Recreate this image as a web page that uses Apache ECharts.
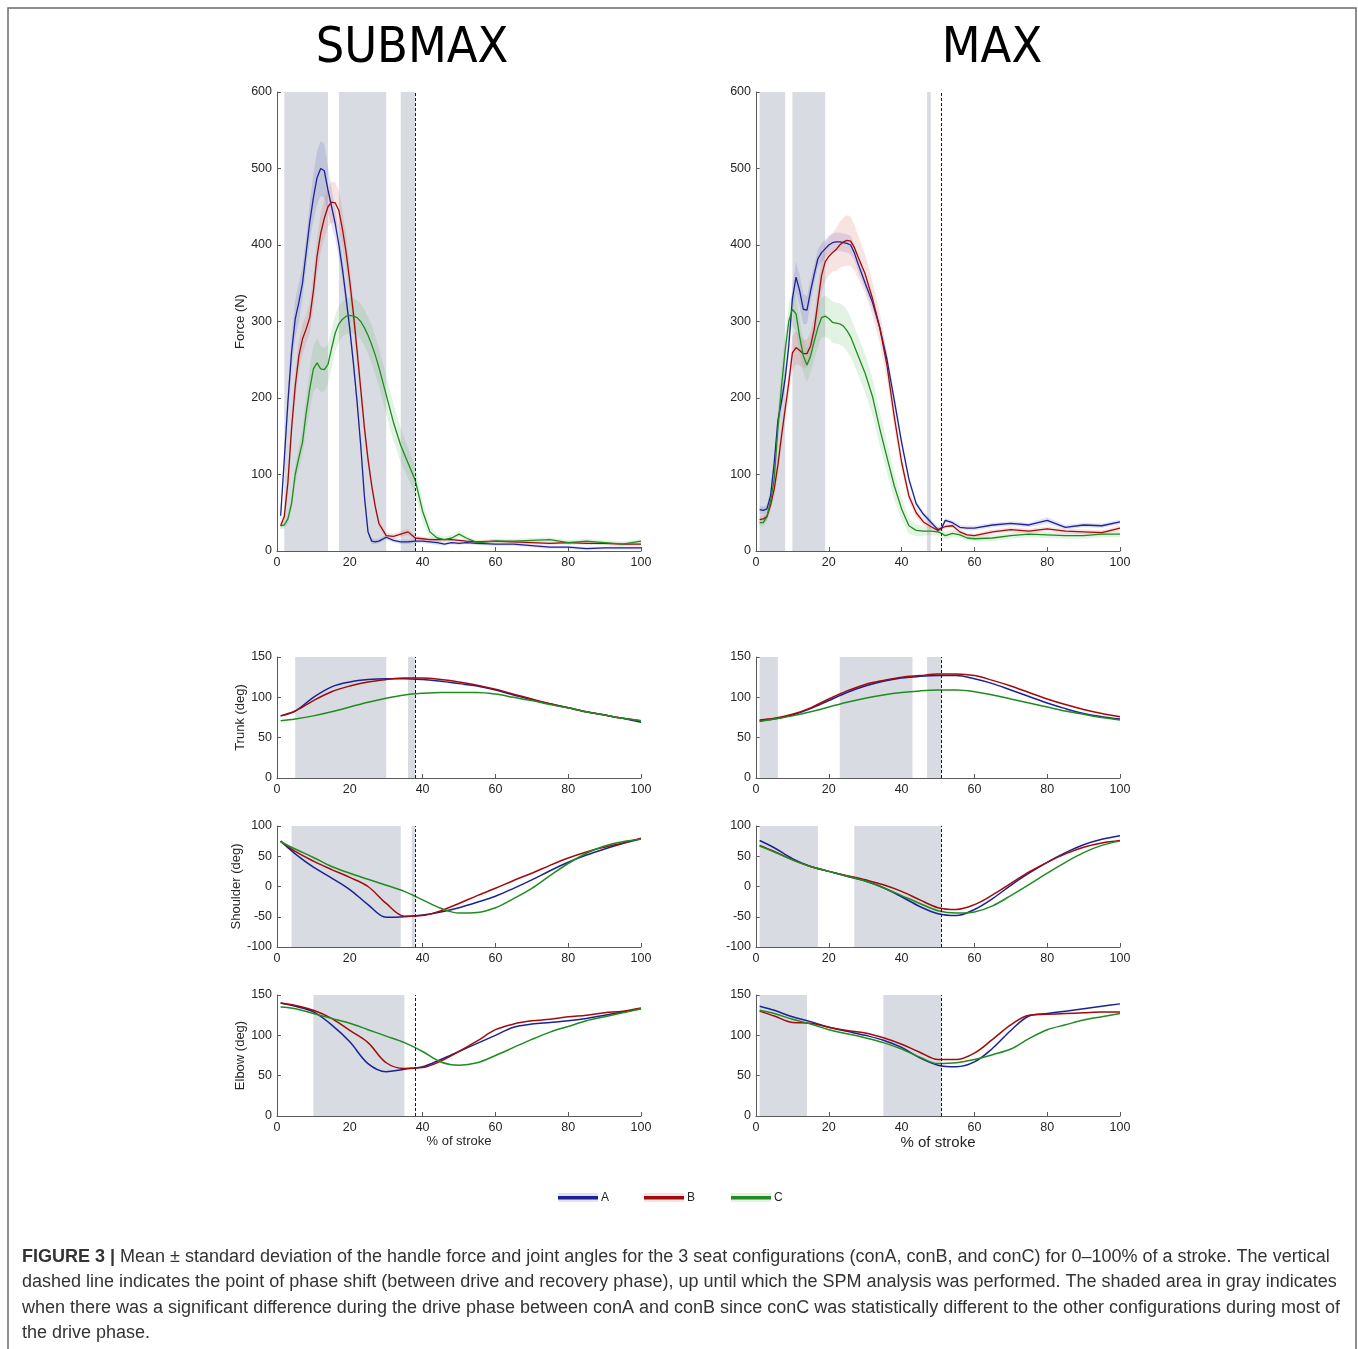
<!DOCTYPE html>
<html>
<head>
<meta charset="utf-8">
<title>Figure 3</title>
<script src="https://cdn.jsdelivr.net/npm/echarts@6/dist/echarts.min.js"></script>
<style>
html, body { margin: 0; padding: 0; background: #fff; }
#main { width: 1358px; height: 1349px; }
</style>
</head>
<body>
<div id="main"></div>
<script>
// ---- data ----
var configs = ['A', 'B', 'C'];

// force, SUBMAX
var xForceL = [1,2,3,4,5,6,7,8,9,10,11,12,13,14,15,16,17,18,19,20,21,22,23,24,25,26,27,28,30,32,34,36,38,40,42,44,46,48,50,52,55,60,65,70,75,80,85,90,95,100];
var forceL_A = [46,120,195,260,303,325,350,390,430,462,488,500,497,472,450,428,400,368,330,290,245,195,138,72,25,13,12,13,18,14,12,12,13,13,12,11,9,11,10,11,10,9,9,7,5,5,3,4,4,4];
var forceL_B = [33,45,90,160,215,255,277,290,305,340,385,415,435,450,456,455,445,420,390,352,310,262,212,162,120,86,58,36,20,19,22,25,17,16,15,15,15,15,14,13,12,13,12,11,10,11,10,10,9,9];
var forceL_C = [33,34,42,62,100,122,142,180,212,238,246,238,237,244,265,285,297,303,307,308,307,305,300,292,282,270,256,240,204,168,138,115,92,52,25,17,15,17,22,17,11,13,13,14,15,11,13,11,9,13];
var sdForceL_A = [5,10,15,20,25,25,22,20,25,30,35,36,35,30,25,20,18,15,12,10,10,10,8,8,5,4,3,3,3,3,3,3,3,3,3,3,2,2,2,2,2,2,2,2,2,2,2,2,2,2];
var sdForceL_B = [5,8,12,15,18,20,20,18,20,22,24,25,26,26,27,27,26,24,22,20,18,16,14,12,10,8,6,5,4,4,4,4,3,3,3,3,2,2,2,2,2,2,2,2,2,2,2,2,2,2];
var sdForceL_C = [5,5,6,8,12,15,18,22,28,30,32,30,28,26,25,24,24,23,23,23,23,23,23,24,24,25,25,25,25,24,22,20,18,14,8,5,4,4,4,3,3,3,3,3,3,3,3,3,3,3];

// force, MAX
var xForceR = [1,2,3,4,5,6,7,8,9,10,11,12,13,14,15,16,17,18,19,20,21,22,23,24,25,26,27,28,30,32,34,36,38,40,42,44,46,48,50,51,52,54,56,58,60,65,70,75,80,85,90,95,100];
var forceR_A = [54,53,55,72,115,170,195,225,268,330,358,340,316,315,340,362,382,390,395,400,403,404,404,403,402,400,390,376,350,325,292,250,197,142,94,62,48,38,28,30,40,37,31,30,30,34,36,34,40,31,34,33,38];
var forceR_B = [41,42,45,60,81,112,150,185,220,259,266,262,258,258,268,290,325,360,378,385,390,394,400,404,406,405,397,385,362,330,292,242,175,116,72,50,38,32,27,30,32,33,25,21,20,25,28,26,29,26,25,24,30];
var forceR_C = [37,37,45,65,94,160,215,262,300,316,310,280,255,243,255,274,292,305,307,304,299,298,297,294,288,280,268,256,232,202,160,122,85,55,33,27,26,26,25,23,20,23,21,17,16,17,20,22,21,20,20,22,22];
var sdForceR_A = [5,5,5,8,10,12,12,12,15,18,20,20,20,18,15,12,12,12,12,12,12,12,12,12,12,12,10,10,8,8,8,8,8,6,5,4,4,4,3,3,3,3,3,3,3,3,3,3,4,3,3,3,3];
var sdForceR_B = [5,5,5,8,10,12,15,18,20,22,22,20,18,18,18,18,20,22,25,25,25,28,30,32,33,32,30,28,25,22,20,18,15,10,8,6,5,4,4,3,3,3,3,3,3,3,3,3,3,3,3,3,3];
var sdForceR_C = [5,5,6,10,15,20,22,22,22,22,22,22,22,22,22,24,25,26,27,27,27,27,27,27,27,26,25,25,25,24,22,20,18,14,10,8,6,5,5,5,5,5,4,4,4,4,4,4,4,4,4,4,4];

// joint angles (deg)
var xAngle = [1,5,10,15,20,25,30,35,40,45,50,55,60,65,70,75,80,85,90,95,100];
var trunkL_A = [77,83,100,113,119,122,123,123,122,120,117,114,109,103,97,92,87,82,78,74,69];
var trunkL_B = [77,83,96,107,114,119,122,124,124,122,119,115,110,104,98,92,87,82,78,74,71];
var trunkL_C = [71,73,77,82,88,94,99,103,105,106,106,106,104,100,96,91,87,82,78,74,71];
var trunkR_A = [71,73,78,86,96,106,114,120,124,126,127,127,123,117,109,101,93,86,80,76,73];
var trunkR_B = [72,74,79,87,98,108,116,121,125,127,129,129,127,121,114,106,98,91,85,80,76];
var trunkR_C = [70,73,77,82,88,94,99,103,106,108,109,109,107,103,98,93,88,83,79,75,72];
var shoulderL_A = [75,54,32,14,-5,-30,-51,-50,-47,-42,-35,-26,-16,-3,11,26,40,52,62,71,79];
var shoulderL_B = [75,58,42,28,15,0,-28,-49,-48,-40,-28,-15,-3,10,22,35,47,57,65,72,80];
var shoulderL_C = [74,62,48,33,22,12,2,-8,-22,-36,-44,-43,-35,-20,-3,18,38,55,67,74,78];
var shoulderR_A = [76,64,46,33,25,17,9,-2,-17,-33,-45,-48,-38,-20,2,22,40,56,69,78,84];
var shoulderR_B = [68,58,44,33,25,18,11,3,-8,-22,-35,-38,-30,-14,5,24,40,54,65,72,76];
var shoulderR_C = [67,57,44,33,25,17,9,-2,-15,-28,-40,-44,-42,-32,-15,3,22,40,56,68,75];
var elbowL_A = [140,136,129,113,92,65,55,58,61,70,80,90,100,110,114,116,118,121,125,129,133];
var elbowL_B = [140,137,131,121,106,91,66,59,60,68,80,93,107,114,118,120,123,125,128,130,134];
var elbowL_C = [135,133,127,121,115,107,99,91,80,67,63,66,75,85,95,104,111,118,123,128,133];
var elbowR_A = [136,131,123,117,110,105,100,94,85,72,63,61,67,84,106,124,127,130,133,136,139];
var elbowR_B = [130,124,116,115,110,106,103,97,89,79,70,70,78,95,113,125,126,127,128,129,129];
var elbowR_C = [131,127,120,114,107,102,97,91,83,73,65,66,70,76,83,96,107,113,119,123,127];

// significant-difference windows (% of stroke) and phase shift
var shadeForceL = [[2,14],[17,30],[34,38]];
var shadeForceR = [[1,8],[10,19],[47,48]];
var shadeTrunkL = [[5,30],[36,38]];
var shadeTrunkR = [[1,6],[23,43],[47,51]];
var shadeShoulderL = [[4,34],[37,38]];
var shadeShoulderR = [[1,17],[27,51]];
var shadeElbowL = [[10,35]];
var shadeElbowR = [[1,14],[35,51]];
var phaseSubmax = 38;
var phaseMax = 51;

// ---- styling ----
var lineColors = ['#1b2394', '#a10b0b', '#1f8c1f'];
var bandColors = ['rgba(70,80,190,0.16)', 'rgba(210,80,80,0.16)', 'rgba(80,180,80,0.16)'];
var shadeColor = '#d8dbe1';
var axisColor = '#5a5a5a';
var textColor = '#262626';
var font = "'Liberation Sans', Arial, sans-serif";
var titleFont = "50px 'Liberation Sans Narrow', 'DejaVu Sans Condensed', sans-serif";

var colLeft = [277, 756];
var plotWidth = 364;
var rowTop = [92, 657, 826, 995];
var rowHeight = [459, 121, 121, 121];

var panels = [
    {row: 0, col: 0, x: xForceL, ys: [forceL_A, forceL_B, forceL_C], sd: [sdForceL_A, sdForceL_B, sdForceL_C], shade: shadeForceL, phase: phaseSubmax, yMin: 0, yMax: 600, yStep: 100, name: 'Force (N)', gap: 27},
    {row: 0, col: 1, x: xForceR, ys: [forceR_A, forceR_B, forceR_C], sd: [sdForceR_A, sdForceR_B, sdForceR_C], shade: shadeForceR, phase: phaseMax, yMin: 0, yMax: 600, yStep: 100},
    {row: 1, col: 0, x: xAngle, ys: [trunkL_A, trunkL_B, trunkL_C], shade: shadeTrunkL, phase: phaseSubmax, yMin: 0, yMax: 150, yStep: 50, name: 'Trunk (deg)', gap: 27},
    {row: 1, col: 1, x: xAngle, ys: [trunkR_A, trunkR_B, trunkR_C], shade: shadeTrunkR, phase: phaseMax, yMin: 0, yMax: 150, yStep: 50},
    {row: 2, col: 0, x: xAngle, ys: [shoulderL_A, shoulderL_B, shoulderL_C], shade: shadeShoulderL, phase: phaseSubmax, yMin: -100, yMax: 100, yStep: 50, name: 'Shoulder (deg)', gap: 31},
    {row: 2, col: 1, x: xAngle, ys: [shoulderR_A, shoulderR_B, shoulderR_C], shade: shadeShoulderR, phase: phaseMax, yMin: -100, yMax: 100, yStep: 50},
    {row: 3, col: 0, x: xAngle, ys: [elbowL_A, elbowL_B, elbowL_C], shade: shadeElbowL, phase: phaseSubmax, yMin: 0, yMax: 150, yStep: 50, name: 'Elbow (deg)', gap: 27, xName: '% of stroke', xNameSize: 13},
    {row: 3, col: 1, x: xAngle, ys: [elbowR_A, elbowR_B, elbowR_C], shade: shadeElbowR, phase: phaseMax, yMin: 0, yMax: 150, yStep: 50, xName: '% of stroke', xNameSize: 15}
];

function zip(xs, ys) {
    return xs.map(function(x, i) { return [x, ys[i]]; });
}

function bandSeries(idx, xs, mean, sd, color) {
    return {
        type: 'custom',
        xAxisIndex: idx,
        yAxisIndex: idx,
        silent: true,
        z: 2,
        data: [[xs[0], mean[0]]],
        renderItem: function(params, api) {
            var pts = [];
            for (var k = 0; k < xs.length; k++) pts.push(api.coord([xs[k], mean[k] + sd[k]]));
            for (var k = xs.length - 1; k >= 0; k--) pts.push(api.coord([xs[k], Math.max(0, mean[k] - sd[k])]));
            return { type: 'polygon', shape: { points: pts }, style: { fill: color } };
        }
    };
}

var myChart = echarts.init(document.getElementById('main'));

var grids = [], xAxes = [], yAxes = [], series = [];

panels.forEach(function(p, i) {
    grids.push({
        left: colLeft[p.col], top: rowTop[p.row], width: plotWidth, height: rowHeight[p.row],
        outerBoundsMode: 'none'
    });
    xAxes.push({
        gridIndex: i, type: 'value', min: 0, max: 100, interval: 20,
        axisLine: { show: true, onZero: false, lineStyle: { color: axisColor, width: 1 } },
        axisTick: { show: true, inside: true, length: 4, lineStyle: { color: axisColor } },
        axisLabel: { color: textColor, fontSize: 12.5, fontFamily: font, margin: 5 },
        splitLine: { show: false },
        name: p.xName || '', nameLocation: 'middle', nameGap: 19,
        nameTextStyle: { color: textColor, fontSize: p.xNameSize || 13, fontFamily: font, verticalAlign: 'top' }
    });
    yAxes.push({
        gridIndex: i, type: 'value', min: p.yMin, max: p.yMax, interval: p.yStep,
        axisLine: { show: true, onZero: false, lineStyle: { color: axisColor, width: 1 } },
        axisTick: { show: true, inside: true, length: 4, lineStyle: { color: axisColor } },
        axisLabel: { color: textColor, fontSize: 12.5, fontFamily: font, margin: 5 },
        splitLine: { show: false },
        name: p.name || '', nameLocation: 'middle', nameGap: p.gap || 27, nameRotate: 90,
        nameTextStyle: { color: textColor, fontSize: 13, fontFamily: font }
    });

    // grey windows + phase shift line
    series.push({
        type: 'line', xAxisIndex: i, yAxisIndex: i, data: [], silent: true, z: 1,
        markArea: {
            silent: true,
            itemStyle: { color: shadeColor },
            data: p.shade.map(function(s) { return [{ xAxis: s[0] }, { xAxis: s[1] }]; })
        },
        markLine: {
            silent: true, symbol: 'none', animation: false,
            label: { show: false },
            lineStyle: { color: '#1a1a1a', type: [3, 2], width: 1 },
            data: [{ xAxis: p.phase }]
        }
    });

    if (p.sd) {
        p.ys.forEach(function(ys, k) {
            series.push(bandSeries(i, p.x, ys, p.sd[k], bandColors[k]));
        });
    }

    p.ys.forEach(function(ys, k) {
        series.push({
            name: configs[k], type: 'line', xAxisIndex: i, yAxisIndex: i, z: 3,
            data: zip(p.x, ys), showSymbol: false, smooth: p.sd ? false : 0.35,
            lineStyle: { color: lineColors[k], width: p.sd ? 1.3 : 1.5 },
            itemStyle: { color: lineColors[k] }
        });
    });
});

// legend swatches
var legendItems = [];
var legendX = [558, 644, 731];
configs.forEach(function(c, k) {
    legendItems.push({ type: 'rect', shape: { x: legendX[k], y: 1193, width: 40, height: 9 }, style: { fill: bandColors[k] } });
    legendItems.push({ type: 'rect', shape: { x: legendX[k], y: 1196, width: 40, height: 3.5 }, style: { fill: lineColors[k] } });
    legendItems.push({ type: 'text', x: legendX[k] + 43, y: 1198, style: { text: c, fill: textColor, font: '12px ' + font, verticalAlign: 'middle' } });
});

var captionFont = "18px 'Liberation Sans', Arial, sans-serif";
var captionLines = [
    ' Mean \u00b1 standard deviation of the handle force and joint angles for the 3 seat configurations (conA, conB, and conC) for 0\u2013100% of a stroke. The vertical',
    'dashed line indicates the point of phase shift (between drive and recovery phase), up until which the SPM analysis was performed. The shaded area in gray indicates',
    'when there was a significant difference during the drive phase between conA and conB since conC was statistically different to the other configurations during most of',
    'the drive phase.'
];

var graphics = [
    { type: 'rect', shape: { x: 8, y: 8, width: 1348, height: 1360 }, style: { fill: 'none', stroke: '#6a6a6a', lineWidth: 1.5 }, z: 0 },
    { type: 'text', x: 412, y: 49, style: { text: 'SUBMAX', fill: '#000', font: titleFont, align: 'center', verticalAlign: 'middle' } },
    { type: 'text', x: 992, y: 49, style: { text: 'MAX', fill: '#000', font: titleFont, align: 'center', verticalAlign: 'middle' } },
    { type: 'text', x: 22, y: 1257, style: {
        text: '{b|FIGURE 3 |}{n|' + captionLines[0] + '}',
        verticalAlign: 'middle',
        rich: {
            b: { font: "bold 18px 'Liberation Sans', Arial, sans-serif", fill: '#333' },
            n: { font: captionFont, fill: '#333' }
        }
    } }
];
for (var li = 1; li < captionLines.length; li++) {
    graphics.push({ type: 'text', x: 22, y: 1257 + li * 25.5, style: { text: captionLines[li], font: captionFont, fill: '#333', verticalAlign: 'middle' } });
}

var option = {
    animation: false,
    backgroundColor: '#fff',
    grid: grids,
    xAxis: xAxes,
    yAxis: yAxes,
    series: series,
    graphic: graphics.concat(legendItems)
};

myChart.setOption(option);
</script>
</body>
</html>
